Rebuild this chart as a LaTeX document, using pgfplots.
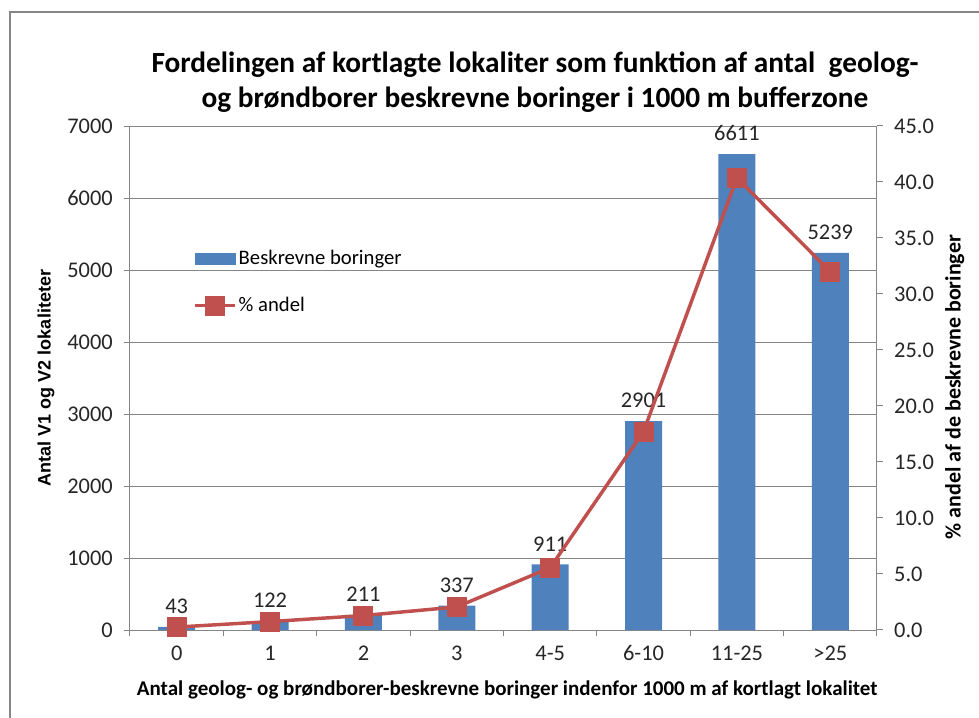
\documentclass[border=0pt]{standalone}
\usepackage{pgfplots}
\pgfplotsset{compat=1.18}
\usepackage{pgfplotstable}
\usepackage{fontspec}
\setmainfont{Carlito}
\newfontfamily\arialfont{Liberation Sans}

\definecolor{barblue}{HTML}{4F81BD}
\definecolor{linered}{HTML}{C0504D}
\definecolor{gridgray}{HTML}{868686}

\pgfplotsset{
  redlegend/.style={legend image code/.code={%
    \draw[mark repeat=2, mark phase=2, ##1] plot coordinates {(0pt,0pt) (15pt,0pt) (30pt,0pt)};}},
  bluelegend/.style={legend image code/.code={%
    \fill[barblue] (0pt,-4.1pt) rectangle (30pt,4.1pt);}},
}

% antal lokaliteter og procentandel pr. kategori
\pgfplotstableread{
x n pct
0 43 0.26
1 122 0.75
2 211 1.29
3 337 2.06
4 911 5.56
5 2901 17.72
6 6611 40.37
7 5239 31.99
}\datatable

\begin{document}
\begin{tikzpicture}
\useasboundingbox (0,0) rectangle (734.25pt,538.5pt);
\draw[gridgray, line width=1.5pt] (7.5pt,0) -- (7.5pt,529.5pt) -- (740pt,529.5pt);
\node[font=\fontsize{22}{26.25}\selectfont\bfseries, align=center] at (401.25pt,477pt)
  {Fordelingen af kortlagte lokaliter som funktion af antal\ \ geolog-\\og brøndborer beskrevne boringer i 1000 m bufferzone};

\begin{axis}[
  at={(97.5pt,66pt)}, anchor=south west,
  scale only axis, width=560.25pt, height=378pt,
  xmin=-0.5, xmax=7.5, ymin=0, ymax=7000,
  axis x line*=bottom, axis y line*=left,
  axis line style={gridgray, line width=0.75pt},
  xtick={0,...,7},
  xticklabels={0,1,2,3,4-5,6-10,11-25,>25},
  major x tick style={draw=none},
  minor xtick={-0.5,0.5,...,7.5},
  ytick={0,1000,...,7000},
  tick align=outside,
  major tick length=4.5pt, minor tick length=4.5pt,
  tick style={gridgray, line width=0.75pt},
  ymajorgrids, grid style={gridgray, line width=0.75pt},
  scaled ticks=false,
  /pgf/number format/.cd, 1000 sep={}, assume math mode=true, /pgfplots/.cd,
  ticklabel style={font=\fontsize{16.8}{19}\selectfont, text=black!85},
  yticklabel style={xshift=-4.9pt},
  xticklabel style={yshift=-4pt, text height=11pt, text depth=0pt},
  xlabel={Antal geolog- og brøndborer-beskrevne boringer indenfor 1000 m af kortlagt lokalitet},
  xlabel style={font=\fontsize{15.75}{18}\selectfont\bfseries, at={(rel axis cs:0.505,-0.119)}, anchor=center},
  ylabel={Antal V1 og V2 lokaliteter},
  ylabel style={font=\fontsize{13.5}{16}\arialfont\bfseries, at={(rel axis cs:-0.1124,0.5)}, anchor=center, rotate=0},
  ybar, bar width=27.75pt,
  nodes near coords,
  nodes near coords style={font=\fontsize{16.8}{19}\selectfont, text=black!85, yshift=6.5pt},
]
\addplot[fill=barblue, draw=none] table[x=x, y=n] {\datatable};
\end{axis}

\begin{axis}[
  at={(97.5pt,66pt)}, anchor=south west,
  scale only axis, width=560.25pt, height=378pt,
  xmin=-0.5, xmax=7.5, ymin=0, ymax=45,
  axis x line=none, axis y line*=right,
  axis line style={gridgray, line width=0.75pt},
  xtick=\empty,
  ytick={0,5,...,45},
  tick align=outside, major tick length=4.5pt,
  tick style={gridgray, line width=0.75pt},
  /pgf/number format/.cd, fixed, fixed zerofill, precision=1, assume math mode=true, /pgfplots/.cd,
  ticklabel style={font=\fontsize{16.8}{19}\selectfont, text=black!85},
  yticklabel style={xshift=4.9pt},
  ylabel={\% andel af de beskrevne boringer},
  ylabel style={font=\fontsize{16.5}{19}\selectfont\bfseries, at={(rel axis cs:1.104,0.482)}, anchor=center, rotate=0},
  legend style={at={(0.079,0.764)}, anchor=north west, draw=none, fill=none,
    font=\fontsize{15.5}{18}\selectfont, row sep=19pt, cells={anchor=west},
    nodes={inner xsep=1.5pt}},
  legend cell align=left,
]
\addlegendimage{bluelegend}
\addlegendentry{Beskrevne boringer}
\addplot[linered, line width=2.6pt, mark=square*, mark size=6.2pt, redlegend]
  table[x=x, y=pct] {\datatable};
\addlegendentry{\% andel}
\end{axis}
\end{tikzpicture}
\end{document}
